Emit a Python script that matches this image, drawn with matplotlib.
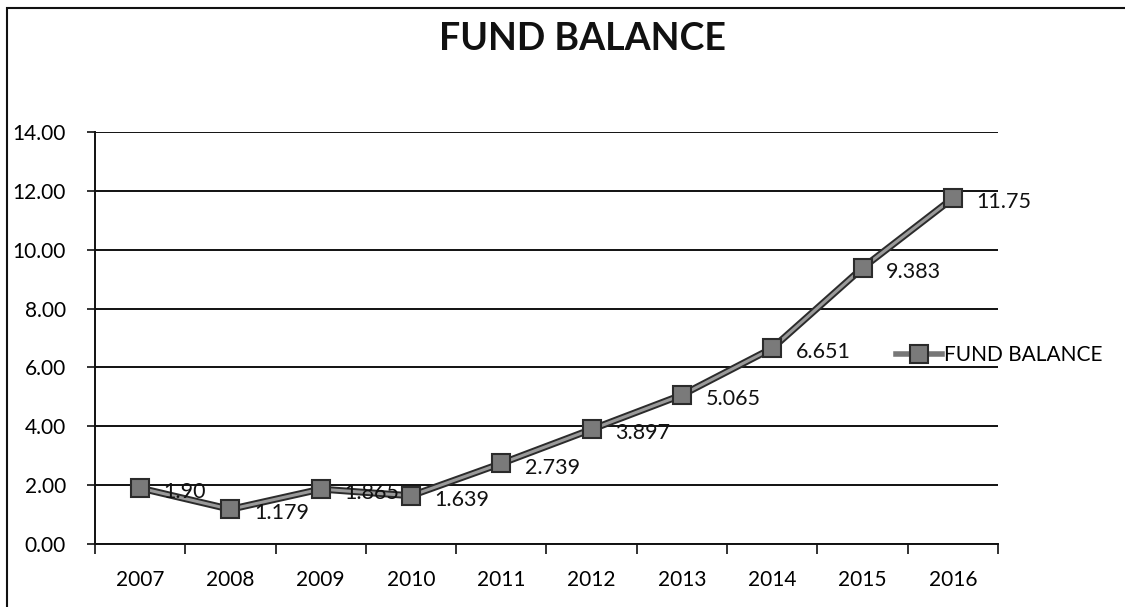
import matplotlib
matplotlib.use('Agg')
import matplotlib.pyplot as plt
from matplotlib.lines import Line2D
from matplotlib.patches import Rectangle

years = ['2007', '2008', '2009', '2010', '2011', '2012', '2013', '2014', '2015', '2016']
fund_balance = [1.90, 1.179, 1.865, 1.639, 2.739, 3.897, 5.065, 6.651, 9.383, 11.75]
value_labels = ['1.90', '1.179', '1.865', '1.639', '2.739', '3.897', '5.065', '6.651', '9.383', '11.75']
y_ticks = [0, 2, 4, 6, 8, 10, 12, 14]

plt.rcParams['font.family'] = ['Lato', 'DejaVu Sans']

fig = plt.figure(figsize=(11.25, 6.07), dpi=100)
ax = fig.add_axes([0.0844, 0.1038, 0.8027, 0.6787])

x = list(range(len(years)))
# dark outline under a lighter gray stroke, like a textured line
ax.plot(x, fund_balance, color='#2b2b2b', linewidth=5, zorder=3, solid_capstyle='round')
ax.plot(x, fund_balance, color='#9a9a9a', linewidth=2.2, zorder=4, solid_capstyle='round')
ax.plot(x, fund_balance, linestyle='none', marker='s', markersize=13,
        markerfacecolor='#7a7a7a', markeredgecolor='#2b2b2b', markeredgewidth=1.5, zorder=5)

for xi, yi, txt in zip(x, fund_balance, value_labels):
    ax.annotate(txt, (xi, yi), xytext=(17, -3), textcoords='offset points',
                ha='left', va='center', fontsize=15.5, color='#111111', zorder=6)

ax.set_xlim(-0.5, len(years) - 0.5)
ax.set_ylim(0, 14)
ax.set_yticks(y_ticks)
ax.set_yticklabels(['{:.2f}'.format(v) for v in y_ticks], fontsize=15)
ax.set_xticks(x)
ax.set_xticklabels(years, fontsize=15)
ax.tick_params(axis='x', which='major', length=0, pad=19)
ax.set_xticks([i - 0.5 for i in range(len(years) + 1)], minor=True)
ax.tick_params(axis='x', which='minor', length=7, width=1.2, direction='out', color='#111111')
ax.tick_params(axis='y', length=6, width=1.2, direction='out', color='#111111', pad=15)
for lbl in ax.get_yticklabels():
    lbl.set_horizontalalignment('right')

ax.grid(axis='y', color='#111111', linewidth=1.4)
ax.set_axisbelow(True)
for side in ['top', 'right']:
    ax.spines[side].set_visible(False)
for side in ['left', 'bottom']:
    ax.spines[side].set_color('#111111')
    ax.spines[side].set_linewidth(1.4)

fig.text(0.518, 0.935, 'FUND BALANCE', ha='center', va='center', fontsize=27,
         fontweight='bold', color='#111111')

handle = Line2D([], [], color='#777777', linewidth=4, marker='s', markersize=13,
                markerfacecolor='#7a7a7a', markeredgecolor='#2b2b2b', markeredgewidth=1.5)
fig.legend([handle], ['FUND BALANCE'], loc='center left', bbox_to_anchor=(0.78, 0.415),
           frameon=False, fontsize=15, handlelength=2.2, handletextpad=0.1)

# chart frame, running off the right and bottom edges
fig.patches.append(Rectangle((7 / 1125, -0.1), 1.2, 1.1 - 8 / 607, transform=fig.transFigure,
                             fill=False, edgecolor='#111111', linewidth=1.5))

fig.savefig('out.png', dpi=100)
